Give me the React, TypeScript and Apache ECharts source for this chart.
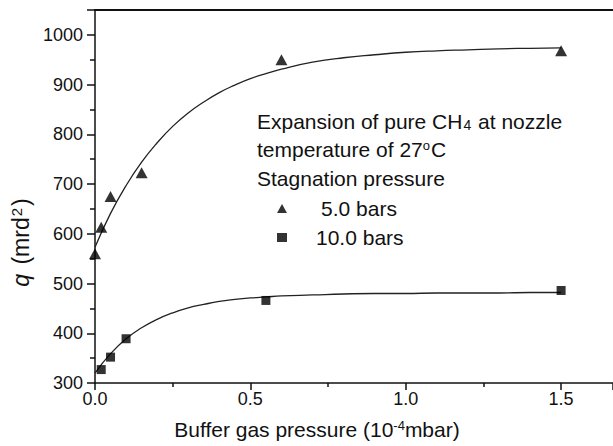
import React, { useEffect, useRef } from "react";
import * as echarts from "echarts";

const tri5X = [0, 0.02, 0.05, 0.15, 0.6, 1.5];
const tri5Y = [560, 613, 675, 723, 950, 968];
const sq10X = [0.02, 0.05, 0.1, 0.55, 1.5];
const sq10Y = [327, 352, 389, 466, 486];
const fit5X = [0, 0.05, 0.1, 0.15, 0.2, 0.25, 0.3, 0.35, 0.4, 0.45, 0.5, 0.55, 0.6, 0.7, 0.8, 0.9, 1.0, 1.1, 1.2, 1.3, 1.4, 1.5];
const fit5Y = [573, 641, 697, 744, 783, 816, 843, 865, 884, 899, 912, 922, 931, 945, 954, 960, 965, 968, 970, 972, 973, 974];
const fit10X = [0, 0.05, 0.1, 0.15, 0.2, 0.25, 0.3, 0.35, 0.4, 0.45, 0.5, 0.55, 0.6, 0.7, 0.8, 0.9, 1.0, 1.1, 1.2, 1.3, 1.4, 1.5];
const fit10Y = [320, 359, 389, 411, 428, 441, 451, 458, 464, 468, 471, 473, 475, 477, 479, 480, 480, 481, 481, 481, 482, 482];
const seriesNames = ["5.0 bars", "10.0 bars"];
const noteLines = [
  "Expansion of pure CH{sub|4} at nozzle",
  "temperature of 27{sup|o}C",
  "Stagnation pressure",
];

const FONT = "'Liberation Sans', Arial, sans-serif";
const zip = (xs: number[], ys: number[]) => xs.map((x, i) => [x, ys[i]]);

export default function App() {
  const ref = useRef<HTMLDivElement>(null);
  useEffect(() => {
    if (!ref.current) return;
    const chart = echarts.init(ref.current, null, { renderer: "svg" });
    const rich = {
      sub: { fontSize: 14, fontFamily: FONT, color: "#111", verticalAlign: "bottom", padding: [0, 1, 0, 1] },
      sup: { fontSize: 13, fontFamily: FONT, color: "#111", verticalAlign: "top", padding: [0, 1, 0, 0] },
    };
    chart.setOption({
      animation: false,
      backgroundColor: "#fff",
      grid: { left: 95, right: 0, top: 10, bottom: 63, containLabel: false },
      xAxis: [
        {
          type: "value",
          min: 0,
          max: 1.667,
          interval: 0.5,
          name: "Buffer gas pressure (10{sup|-4}mbar)",
          nameLocation: "middle",
          nameGap: 36,
          nameTextStyle: {
            fontFamily: FONT,
            fontSize: 21,
            color: "#111",
            padding: [0, 74, 0, 0],
            rich: {
              sup: { fontSize: 13, fontFamily: FONT, color: "#111", verticalAlign: "top" },
            },
          },
          axisLine: { lineStyle: { color: "#111", width: 1.5 } },
          axisTick: { length: 7, lineStyle: { color: "#111", width: 1.5 } },
          minorTick: { show: true, splitNumber: 2, length: 4, lineStyle: { color: "#111", width: 1.5 } },
          splitLine: { show: false },
          axisLabel: {
            fontFamily: FONT,
            fontSize: 18,
            color: "#111",
            margin: 7,
            showMaxLabel: false,
            formatter: (v: number) => v.toFixed(1),
          },
        },
        {
          type: "value",
          position: "top",
          min: 0,
          max: 1.667,
          axisLine: { show: true, lineStyle: { color: "#111", width: 2 } },
          axisTick: { show: false },
          axisLabel: { show: false },
          splitLine: { show: false },
        },
      ],
      yAxis: {
        type: "value",
        min: 300,
        max: 1050,
        interval: 100,
        name: "{i|q} (mrd{sup|2})",
        nameLocation: "middle",
        nameGap: 56,
        nameTextStyle: {
          fontFamily: FONT,
          fontSize: 23,
          color: "#111",
          padding: [0, 92, 0, 0],
          rich: {
            i: { fontSize: 23, fontFamily: FONT, fontStyle: "italic", color: "#111", padding: [0, 3, 0, 0] },
            sup: { fontSize: 15, fontFamily: FONT, color: "#111", verticalAlign: "top", padding: [0, 2, 0, 1] },
          },
        },
        axisLine: { show: true, lineStyle: { color: "#111", width: 1.5 } },
        axisTick: { length: 8, lineStyle: { color: "#111", width: 1.5 } },
        minorTick: { show: true, splitNumber: 2, length: 5, lineStyle: { color: "#111", width: 1.5 } },
        splitLine: { show: false },
        axisLabel: {
          fontFamily: FONT,
          fontSize: 18,
          color: "#111",
          margin: 12,
          showMaxLabel: false,
          formatter: (v: number) => String(v),
        },
      },
      legend: {
        data: [
          { name: seriesNames[0], icon: "triangle", textStyle: { padding: [0, 0, 0, 29] } },
          { name: seriesNames[1], icon: "rect", textStyle: { padding: [0, 0, 0, 24] } },
        ],
        orient: "vertical",
        left: 272,
        top: 193,
        itemWidth: 10,
        itemHeight: 9,
        itemGap: 8,
        textStyle: { fontFamily: FONT, fontSize: 21, color: "#111", lineHeight: 20 },
      },
      graphic: noteLines.map((t, i) => ({
        type: "text",
        left: 257,
        top: 111 + i * 28.3,
        style: {
          text: t,
          fontFamily: FONT,
          fontSize: 21,
          fill: "#111",
          rich,
        },
      })),
      series: [
        {
          name: "fit5",
          type: "line",
          data: zip(fit5X, fit5Y),
          smooth: 0.5,
          showSymbol: false,
          lineStyle: { color: "#222", width: 1.3 },
          z: 1,
        },
        {
          name: "fit10",
          type: "line",
          data: zip(fit10X, fit10Y),
          smooth: 0.5,
          showSymbol: false,
          lineStyle: { color: "#222", width: 1.3 },
          z: 1,
        },
        {
          name: seriesNames[0],
          type: "scatter",
          data: zip(tri5X, tri5Y),
          symbol: "triangle",
          symbolSize: [12, 11],
          itemStyle: { color: "#000" },
          z: 3,
        },
        {
          name: seriesNames[1],
          type: "scatter",
          data: zip(sq10X, sq10Y),
          symbol: "rect",
          symbolSize: 9,
          itemStyle: { color: "#000" },
          z: 3,
        },
      ],
    });
    return () => chart.dispose();
  }, []);
  return <div ref={ref} style={{ width: 613, height: 446, position: "absolute", left: 0, top: 0 }} />;
}
